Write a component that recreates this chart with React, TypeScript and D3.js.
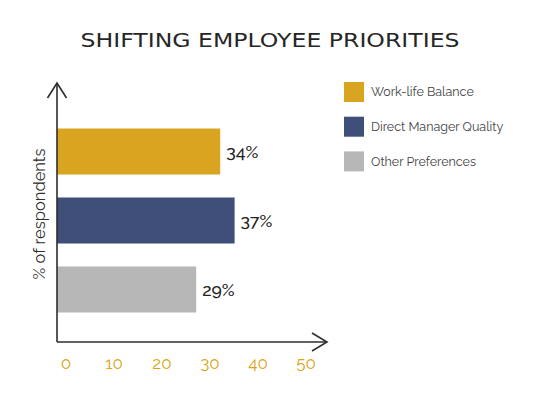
import React, { useRef, useEffect } from "react";
import * as d3 from "d3";

const categories = ["Work-life Balance", "Direct Manager Quality", "Other Preferences"];
const values = [34, 37, 29];
const colors = ["#D9A521", "#3F4F7A", "#B7B7B7"];
const xTicks = [0, 10, 20, 30, 40, 50];

const W = 538;
const H = 396;

const App = () => {
  const svgRef = useRef<SVGSVGElement | null>(null);

  useEffect(() => {
    const svg = d3.select(svgRef.current);
    svg.selectAll("*").remove();

    const font = "Raleway, Lato, 'Open Sans', sans-serif";
    const axisX = 57; // y axis position
    const axisY = 342; // x axis position

    const x = d3.scaleLinear().domain([0, 50]).range([axisX, axisX + 240]);
    const y = d3
      .scaleBand()
      .domain(categories)
      .range([117, 324])
      .paddingInner(0.333)
      .paddingOuter(0.1667);

    // title
    svg
      .append("text")
      .attr("x", 270)
      .attr("y", 47)
      .attr("text-anchor", "middle")
      .attr("fill", "#262626")
      .style("font-family", "'DejaVu Sans', sans-serif")
      .style("font-size", "20px")
      .style("font-weight", 500)
      .attr("textLength", 379)
      .attr("lengthAdjust", "spacingAndGlyphs")
      .text("SHIFTING EMPLOYEE PRIORITIES");

    // bars
    svg
      .selectAll("rect.bar")
      .data(values)
      .join("rect")
      .attr("class", "bar")
      .attr("x", x(0))
      .attr("y", (d, i) => y(categories[i])!)
      .attr("width", d => x(d) - x(0))
      .attr("height", y.bandwidth())
      .attr("fill", (d, i) => colors[i]);

    // value labels
    svg
      .selectAll("text.val")
      .data(values)
      .join("text")
      .attr("class", "val")
      .attr("x", d => x(d) + 6)
      .attr("y", (d, i) => y(categories[i])! + y.bandwidth() / 2)
      .attr("dy", "0.35em")
      .attr("fill", "#222")
      .style("font-family", font)
      .style("font-size", "17.5px")
      .style("font-weight", 500)
      .text(d => `${d}%`);

    // axes
    const ax = svg.append("g").attr("stroke", "#2e2e2e").attr("stroke-width", 1.6).attr("fill", "none");
    ax.append("line").attr("x1", axisX).attr("x2", axisX).attr("y1", 83).attr("y2", axisY);
    ax.append("line").attr("x1", axisX).attr("x2", 327).attr("y1", axisY).attr("y2", axisY);
    ax.append("path").attr("d", `M${axisX - 9.5},98 L${axisX},83 L${axisX + 9.5},98`);
    ax.append("path").attr("d", `M312,333 L327,${axisY} L312,351`);

    // x tick labels
    svg
      .selectAll("text.tick")
      .data(xTicks)
      .join("text")
      .attr("class", "tick")
      .attr("x", d => x(d) + 9)
      .attr("y", 369)
      .attr("text-anchor", "middle")
      .attr("fill", "#D9A521")
      .style("font-family", font)
      .style("font-size", "17px")
      .text(d => d);

    // y axis title
    svg
      .append("text")
      .attr("transform", `translate(45,214) rotate(-90)`)
      .attr("text-anchor", "middle")
      .attr("fill", "#2e2e2e")
      .style("font-family", font)
      .style("font-size", "16.5px")
      .text("% of respondents");

    // legend
    const leg = svg
      .selectAll("g.leg")
      .data(categories)
      .join("g")
      .attr("class", "leg")
      .attr("transform", (d, i) => `translate(344,${82 + i * 34.7})`);
    leg.append("rect").attr("width", 20).attr("height", 20).attr("fill", (d, i) => colors[i]);
    leg
      .append("text")
      .attr("x", 27)
      .attr("y", 10)
      .attr("dy", "0.35em")
      .attr("fill", "#444")
      .style("font-family", font)
      .style("font-size", "12.5px")
      .text(d => d);
  }, []);

  return (
    <div style={{ position: "absolute", left: 0, top: 0, width: W, height: H, background: "#fff" }}>
      <svg ref={svgRef} width={W} height={H} />
    </div>
  );
};

export default App;
